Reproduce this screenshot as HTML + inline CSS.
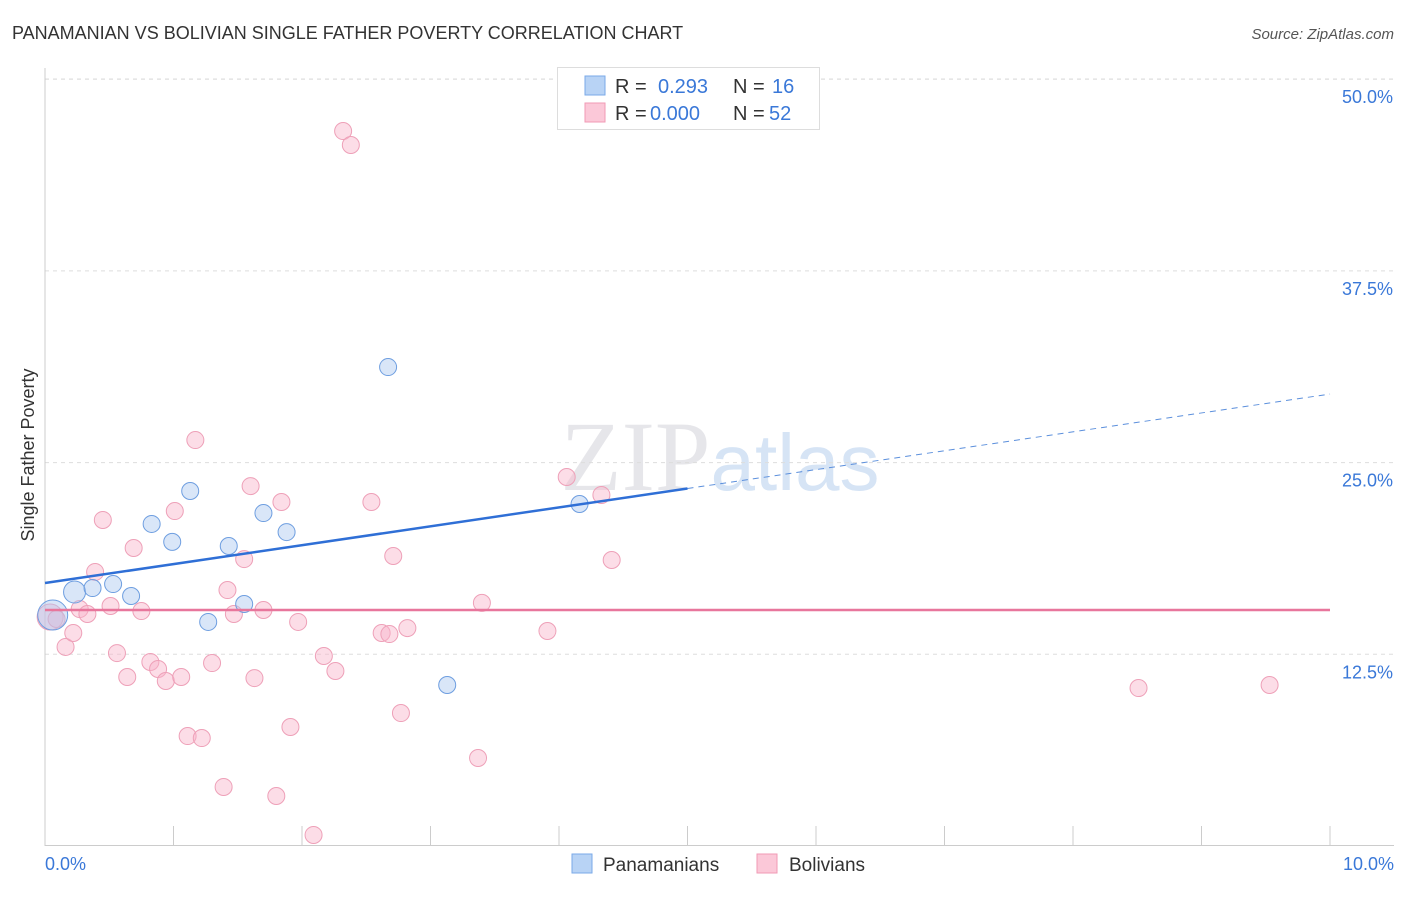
<!DOCTYPE html>
<html><head><meta charset="utf-8"><style>
body{margin:0;background:#fff;font-family:"Liberation Sans",sans-serif;}
</style></head><body>
<svg id="c" width="1406" height="892" xmlns="http://www.w3.org/2000/svg" font-family="Liberation Sans, sans-serif">
<text x="12" y="39" font-size="18" fill="#333">PANAMANIAN VS BOLIVIAN SINGLE FATHER POVERTY CORRELATION CHART</text>
<text x="1394" y="39" font-size="15" fill="#555" font-style="italic" text-anchor="end">Source: ZipAtlas.com</text>
<text x="720" y="490" font-size="100" fill="#e6e6ea" text-anchor="middle" font-family="Liberation Serif, serif">ZIP<tspan fill="#d6e4f5" font-family="Liberation Sans, sans-serif" font-size="80">atlas</tspan></text>
<text transform="translate(34,455) rotate(-90)" font-size="18" fill="#333" text-anchor="middle">Single Father Poverty</text>
<g id="grid"></g><g id="marks"></g>
<g>
<rect x="557.5" y="67.5" width="262" height="62" fill="#fff" stroke="#ddd"/>
<rect x="585" y="76" width="20" height="19" fill="#b8d3f5" stroke="#7aaae8"/>
<rect x="585" y="103" width="20" height="19" fill="#fbc8d8" stroke="#f09ab5"/>
<g font-size="20">
<text x="615" y="93" fill="#333">R =</text>
<text x="658" y="93" fill="#3a78d8">0.293</text>
<text x="733" y="93" fill="#333">N =</text>
<text x="772" y="93" fill="#3a78d8">16</text>
<text x="615" y="120" fill="#333">R =</text>
<text x="650" y="120" fill="#3a78d8">0.000</text>
<text x="733" y="120" fill="#333">N =</text>
<text x="769" y="120" fill="#3a78d8">52</text>
</g>
</g>
<g>
<rect x="572" y="854" width="20" height="19" fill="#b8d3f5" stroke="#7aaae8"/>
<text x="603" y="871" font-size="19" fill="#333">Panamanians</text>
<rect x="757" y="854" width="20" height="19" fill="#fbc8d8" stroke="#f09ab5"/>
<text x="789" y="871" font-size="19" fill="#333">Bolivians</text>
</g>
</svg>
<script>
const blueX=[0.06,0.23,0.37,0.53,0.67,0.83,0.99,1.13,1.27,1.43,1.55,1.70,1.88,2.67,3.13,4.16];
const blueY=[15.06,16.56,16.82,17.08,16.30,21.00,19.83,23.15,14.61,19.56,15.78,21.71,20.47,31.23,10.50,22.30];
const pinkX=[0.04,0.09,0.16,0.22,0.27,0.33,0.39,0.45,0.51,0.56,0.64,0.69,0.75,0.82,0.88,0.94,1.01,1.06,1.11,1.17,1.22,1.30,1.39,1.42,1.47,1.55,1.60,1.63,1.70,1.80,1.84,1.91,1.97,2.09,2.17,2.26,2.32,2.38,2.54,2.62,2.68,2.71,2.77,2.82,3.37,3.40,3.91,4.06,4.33,4.41,8.51,9.53];
const pinkY=[14.93,14.80,12.98,13.89,15.45,15.13,17.87,21.26,15.65,12.58,11.02,19.43,15.32,12.00,11.54,10.76,21.84,11.02,7.17,26.47,7.04,11.93,3.85,16.69,15.13,18.71,23.47,10.95,15.39,3.26,22.43,7.76,14.61,0.72,12.39,11.41,46.62,45.71,22.43,13.89,13.82,18.91,8.67,14.21,5.74,15.85,14.02,24.06,22.89,18.65,10.30,10.50];
const yTicks=[12.5,25,37.5,50];
const yTickLabels=["12.5%","25.0%","37.5%","50.0%"];
const xTicks=[0,1,2,3,4,5,6,7,8,9,10];
const blueTrend=[17.15,29.47];
const pinkTrend=[15.39,15.39];
const NS='http://www.w3.org/2000/svg';
const X=v=>45+v*128.5, Y=v=>846-v*15.336;
function mk(t,a,p){const e=document.createElementNS(NS,t);for(const k in a)e.setAttribute(k,a[k]);p.appendChild(e);return e;}
const g=document.getElementById('grid'), m=document.getElementById('marks');
mk('line',{x1:45,y1:79,x2:1394,y2:79,stroke:'#ddd','stroke-dasharray':'4,4'},g);
yTicks.forEach((v,i)=>{
 const l=mk('line',{x1:45,y1:Y(v),x2:1394,y2:Y(v),stroke:'#ddd','stroke-dasharray':'4,4'},g);
 
 
 const t=mk('text',{x:1393,y:Y(v)+24,'font-size':18,fill:'#3a78d8','text-anchor':'end'},g);
 t.textContent=yTickLabels[i];
 
 
});
mk('line',{x1:45,y1:68,x2:45,y2:846,stroke:'#ccc'},g);
mk('line',{x1:45,y1:845.5,x2:1394,y2:845.5,stroke:'#ccc'},g);
xTicks.forEach(v=>{const l=mk('line',{x1:X(v),y1:826,x2:X(v),y2:846,stroke:'#ccc'},g);
 
 });
const t0=mk('text',{x:45,y:870,'font-size':18,fill:'#3a78d8'},g);t0.textContent='0.0%';


const t1=mk('text',{x:1394,y:870,'font-size':18,fill:'#3a78d8','text-anchor':'end'},g);t1.textContent='10.0%';


pinkX.forEach((x,i)=>{const c=mk('circle',{cx:X(x),cy:Y(pinkY[i]),r:i==0?13:8.5,fill:'rgba(248,180,202,0.45)',stroke:'#eea0b8','stroke-width':1},m);
 
 });
blueX.forEach((x,i)=>{const c=mk('circle',{cx:X(x),cy:Y(blueY[i]),r:i<2?(i==0?15:11):8.5,fill:'rgba(170,200,240,0.45)',stroke:'#6e9ee0','stroke-width':1},m);
 
 });
const bAt=v=>blueTrend[0]+(blueTrend[1]-blueTrend[0])*v/10;
const b1=mk('line',{x1:X(0),y1:Y(bAt(0)),x2:X(5),y2:Y(bAt(5)),stroke:'#2f6fd6','stroke-width':2.5},m);


const b2=mk('line',{x1:X(5),y1:Y(bAt(5)),x2:X(10),y2:Y(bAt(10)),stroke:'#5b8fdc','stroke-width':1,'stroke-dasharray':'6,5'},m);


const p1=mk('line',{x1:X(0),y1:Y(pinkTrend[0]),x2:X(10),y2:Y(pinkTrend[1]),stroke:'#e8769c','stroke-width':2.5},m);


</script>
</body></html>
